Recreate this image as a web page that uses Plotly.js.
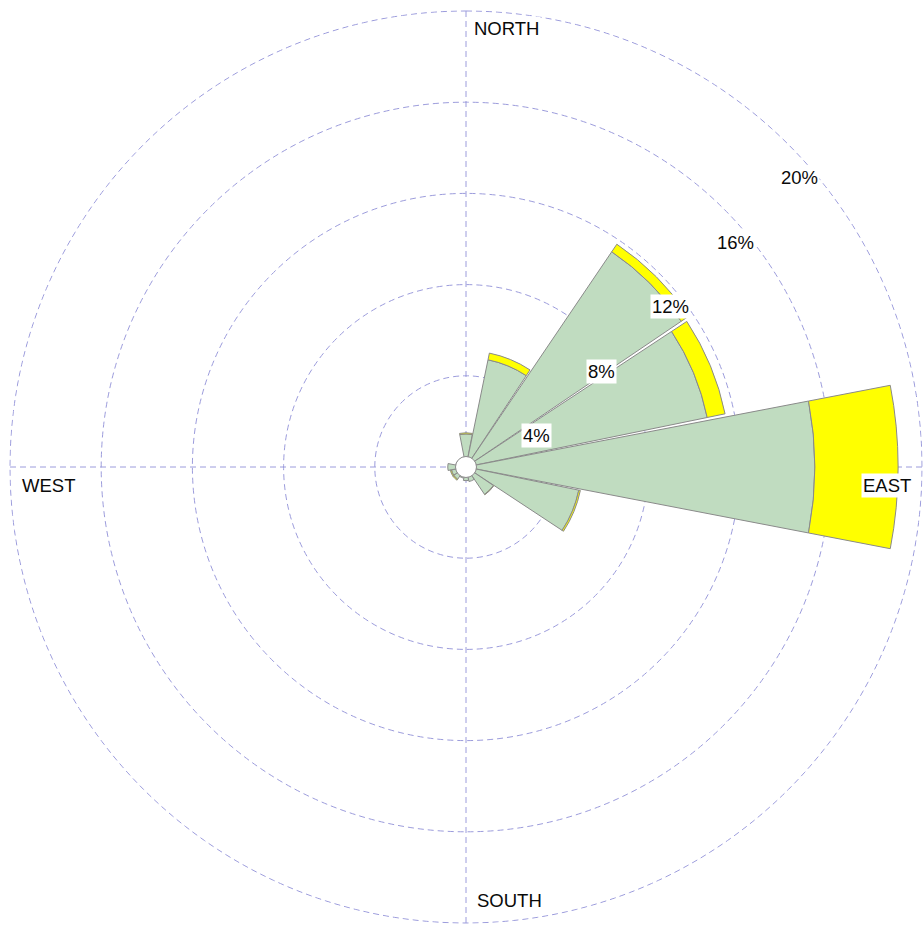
<!DOCTYPE html>
<html>
<head>
<meta charset="utf-8">
<script src="https://cdn.plot.ly/plotly-3.0.1.min.js"></script>
<style>html,body{margin:0;padding:0;background:#fff;}#chart{width:923px;height:934px;}</style>
</head>
<body>
<div id="chart"></div>
<script>
// ---- data ----
const directions = ['N','NNE','NE','ENE','E','ESE','SE','SSE','S','SSW','SW','WSW','W','WNW','NW','NNW'];
const lowSpeed  = [1.45, 4.8, 11.4, 10.8, 15.3, 5.05, 1.45, 0.65, 0.6, 0.5, 0.65, 0.65, 0.8, 0.45, 0.4, 0.4];
const highSpeed = [0.05, 0.3, 0.4, 0.8, 3.65, 0.07, 0.02, 0, 0, 0, 0.05, 0.05, 0, 0, 0, 0];
const tickVals = [4, 8, 12, 16, 20];
const tickLabels = ['4%', '8%', '12%', '16%', '20%'];
const cardinalLabels = ['NORTH', 'EAST', 'SOUTH', 'WEST'];

// ---- geometry ----
const W = 923, H = 934;
const cx = 466, cy = 467, R = 456;      // R = pixel radius of the 20% ring
const rMax = 20;
const rTop = 20.04;
const Rt = R * rTop / rMax;
const step = 360 / directions.length;
const theta = directions.map((d, i) => i * step);
const font = {family: 'Liberation Sans, Arial, sans-serif', size: 18.5, color: '#0a0a0a'};
const gridColor = '#9c9cdc';
const gridDash = '6px,4px';
const px = x => x / W;
const py = y => 1 - y / H;

// outer ring (the last tick value) drawn as a dashed grid circle
const ringTheta = [];
for (let a = 0; a <= 360; a += 1) ringTheta.push(a);
const outerTick = tickVals[tickVals.length - 1];

const traces = [
  {type: 'scatterpolar', r: ringTheta.map(() => outerTick), theta: ringTheta, mode: 'lines',
   line: {color: gridColor, width: 1, dash: gridDash}, hoverinfo: 'skip'},
  {type: 'barpolar', r: lowSpeed, theta: theta, width: 21.8, name: 'low',
   marker: {color: '#c0dcc0', line: {color: '#8a8a8a', width: 1}}, hoverinfo: 'skip'},
  {type: 'barpolar', r: highSpeed, theta: theta, width: 21.8, name: 'high',
   marker: {color: '#ffff00', line: {color: '#8a8a8a', width: 1}}, hoverinfo: 'skip'},
  {type: 'scatterpolar', r: [0], theta: [0], mode: 'markers',
   marker: {size: 21, color: '#ffffff', line: {color: '#8a8a8a', width: 1}}, hoverinfo: 'skip'}
];

const annotations = [];
tickVals.forEach((v, i) => {
  const rr = R * v / rMax;
  const ringX = cx + rr * Math.SQRT1_2;
  const ringY = cy - rr * Math.SQRT1_2;
  annotations.push({xref: 'paper', yref: 'paper', x: px(ringX - 9), y: py(ringY + 33),
    xanchor: 'left', yanchor: 'middle', text: tickLabels[i], showarrow: false,
    bgcolor: '#ffffff', borderpad: 1, font: font});
});
const cardPos = [
  {x: cx + 6.5, y: cy - 439, xa: 'left'},
  {x: cx + 446.5, y: cy + 18, xa: 'right'},
  {x: cx + 8.5, y: cy + 433, xa: 'left'},
  {x: cx - 446.5, y: cy + 18, xa: 'left'}
];
cardinalLabels.forEach((t, i) => {
  annotations.push({xref: 'paper', yref: 'paper', x: px(cardPos[i].x), y: py(cardPos[i].y),
    xanchor: cardPos[i].xa, yanchor: 'middle', text: t, showarrow: false,
    bgcolor: '#ffffff', borderpad: 1, font: font});
});

const layout = {
  width: W, height: H,
  margin: {l: 0, r: 0, t: 0, b: 0},
  paper_bgcolor: '#ffffff',
  showlegend: false,
  polar: {
    domain: {x: [(cx - Rt) / W, Math.min(1, (cx + Rt) / W)], y: [1 - (cy + Rt) / H, 1 - (cy - Rt) / H]},
    bgcolor: '#ffffff',
    barmode: 'stack',
    radialaxis: {range: [0, rTop], tickmode: 'array', tickvals: tickVals, showticklabels: false,
      ticks: '', showline: false, gridcolor: gridColor, gridwidth: 1, griddash: gridDash},
    angularaxis: {rotation: 90, direction: 'clockwise', tickmode: 'linear', dtick: 90,
      showticklabels: false, ticks: '', showline: false,
      gridcolor: gridColor, gridwidth: 1, griddash: gridDash}
  },
  annotations: annotations
};

Plotly.newPlot('chart', traces, layout, {displayModeBar: false, staticPlot: true});
</script>
</body>
</html>
